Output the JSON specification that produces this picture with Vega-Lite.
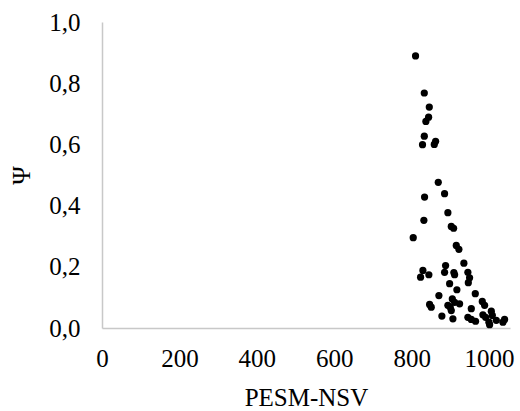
{
  "$schema": "https://vega.github.io/schema/vega-lite/v6.json",
  "autosize": "none",
  "width": 408,
  "height": 306,
  "padding": {"left": 102, "top": 22, "right": 10, "bottom": 83},
  "background": "white",
  "data": {"values": [
    {"x": 810, "y": 0.889}, {"x": 832.6, "y": 0.768}, {"x": 845.5, "y": 0.722}, {"x": 843.7, "y": 0.689},
    {"x": 836.7, "y": 0.675}, {"x": 832.6, "y": 0.627}, {"x": 828, "y": 0.599}, {"x": 861.8, "y": 0.610},
    {"x": 858.4, "y": 0.600}, {"x": 868.7, "y": 0.476}, {"x": 833.3, "y": 0.428}, {"x": 885, "y": 0.439},
    {"x": 893.5, "y": 0.377}, {"x": 831.5, "y": 0.352}, {"x": 902.3, "y": 0.332}, {"x": 908.3, "y": 0.326},
    {"x": 804, "y": 0.295}, {"x": 915.2, "y": 0.270}, {"x": 922, "y": 0.257}, {"x": 934.9, "y": 0.212},
    {"x": 829, "y": 0.188}, {"x": 823, "y": 0.166}, {"x": 844.4, "y": 0.174}, {"x": 887.6, "y": 0.204},
    {"x": 885, "y": 0.182}, {"x": 909, "y": 0.181}, {"x": 910.9, "y": 0.174}, {"x": 945.2, "y": 0.182},
    {"x": 949.6, "y": 0.164}, {"x": 946.3, "y": 0.148}, {"x": 898, "y": 0.145}, {"x": 916.8, "y": 0.125},
    {"x": 870.3, "y": 0.106}, {"x": 964.3, "y": 0.112}, {"x": 846.3, "y": 0.077}, {"x": 850.6, "y": 0.068},
    {"x": 905, "y": 0.095}, {"x": 910.9, "y": 0.084}, {"x": 923.8, "y": 0.079}, {"x": 893.5, "y": 0.074},
    {"x": 899.7, "y": 0.068}, {"x": 902.3, "y": 0.057}, {"x": 982.4, "y": 0.087}, {"x": 988.4, "y": 0.074},
    {"x": 954, "y": 0.063}, {"x": 878, "y": 0.039}, {"x": 906.5, "y": 0.030}, {"x": 945.2, "y": 0.035},
    {"x": 954, "y": 0.028}, {"x": 965, "y": 0.022}, {"x": 984, "y": 0.043}, {"x": 991, "y": 0.035},
    {"x": 1005.7, "y": 0.055}, {"x": 1008.3, "y": 0.041}, {"x": 999.5, "y": 0.019}, {"x": 1001.3, "y": 0.011},
    {"x": 1018.6, "y": 0.025}, {"x": 1040, "y": 0.028}, {"x": 1035.7, "y": 0.019}
  ]},
  "mark": {"type": "circle", "size": 52, "color": "black", "opacity": 1},
  "encoding": {
    "x": {
      "field": "x", "type": "quantitative",
      "scale": {"domain": [0, 1054], "nice": false, "zero": true},
      "axis": {
        "title": "PESM-NSV", "values": [0, 200, 400, 600, 800, 1000],
        "labelExpr": "format(datum.value, 'd')",
        "grid": false, "ticks": false, "domainColor": "#c8c8c8", "domainWidth": 1.5,
        "labelFont": "Liberation Serif", "labelFontSize": 25, "labelColor": "black",
        "labelPadding": 18, "labelFlush": false, "labelOverlap": false,
        "titleFont": "Liberation Serif", "titleFontSize": 25, "titleFontWeight": "normal",
        "titleColor": "black", "titlePadding": 14
      }
    },
    "y": {
      "field": "y", "type": "quantitative",
      "scale": {"domain": [0, 1], "nice": false},
      "axis": {
        "title": "Ψ", "values": [0, 0.2, 0.4, 0.6, 0.8, 1.0],
        "labelExpr": "replace(format(datum.value, '.1f'), '.', ',')",
        "grid": false, "ticks": false, "domainColor": "#c8c8c8", "domainWidth": 1.5,
        "labelFont": "Liberation Serif", "labelFontSize": 25, "labelColor": "black",
        "labelPadding": 22, "labelFlush": false, "labelOverlap": false,
        "titleFont": "Liberation Serif", "titleFontSize": 25, "titleFontWeight": "normal",
        "titleColor": "black", "titlePadding": 14
      }
    }
  },
  "config": {"view": {"stroke": null}}
}
